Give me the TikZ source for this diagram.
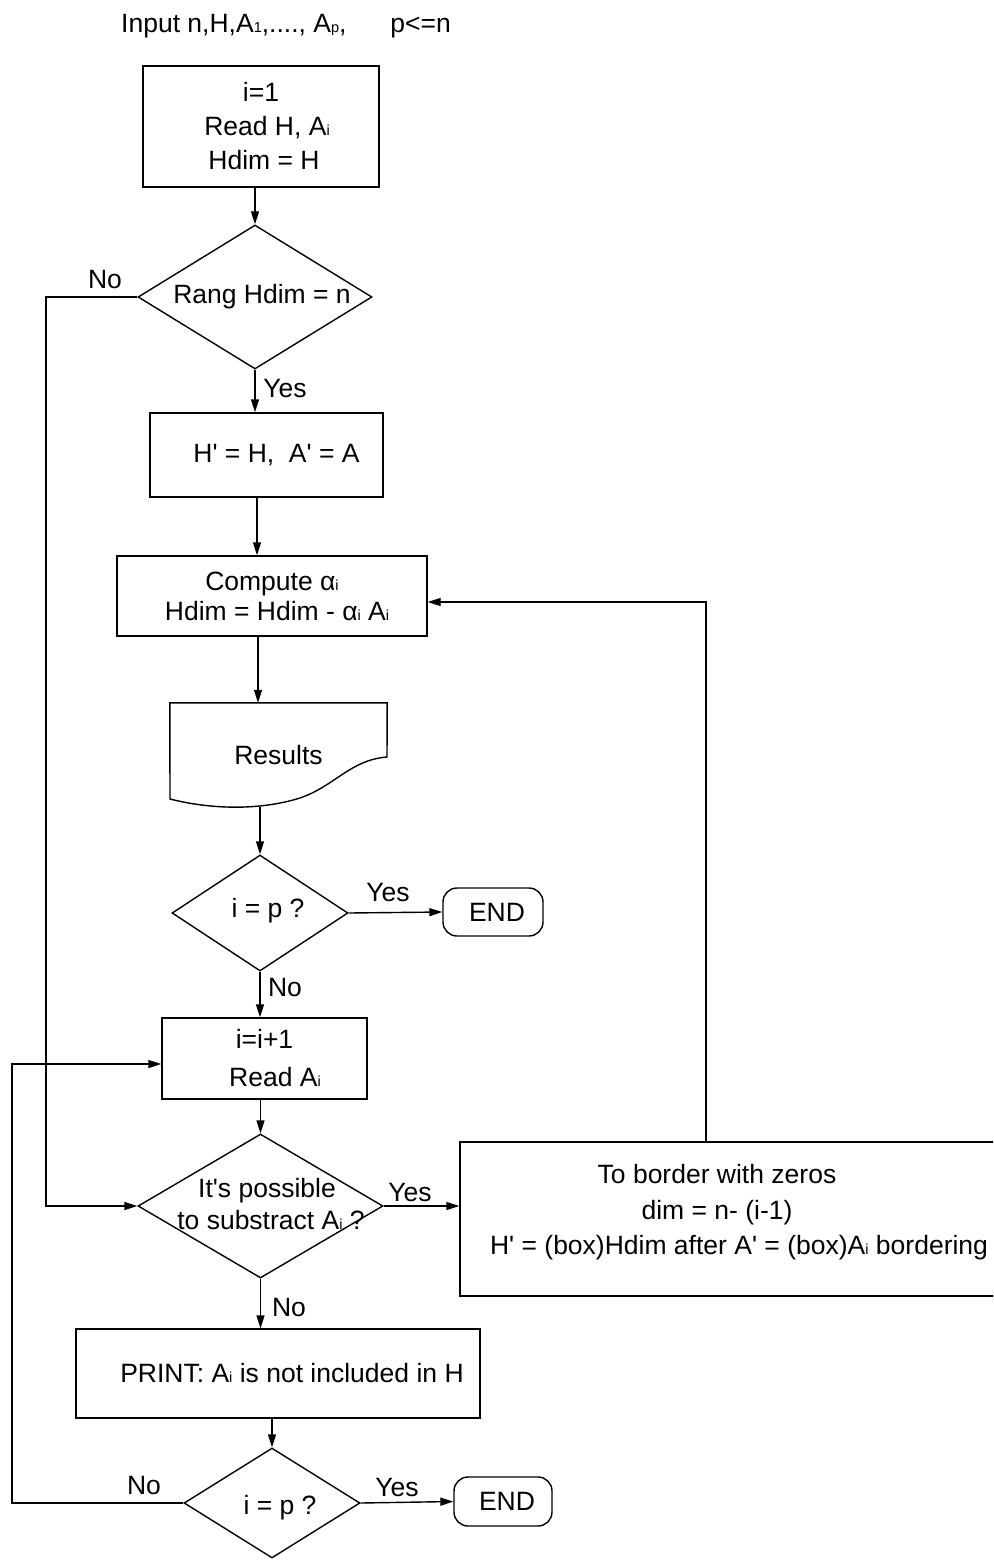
\documentclass[tikz,border=0pt]{standalone}
\usepackage{fontspec}
\setmainfont{Liberation Sans}[Ligatures=TeXOff]
\usetikzlibrary{shapes.geometric,arrows.meta,calc}
\newcommand\sbs[1]{{\fontsize{14.5pt}{14.5pt}\selectfont #1}}
\begin{document}
\begin{tikzpicture}[x=1pt,y=-1pt,
  every node/.style={font=\fontsize{26.5pt}{34pt}\selectfont, inner sep=0pt},
  box/.style={draw, line width=1.4pt, rectangle, align=center},
  dia/.style={draw, line width=1.4pt, diamond, aspect=1},
  term/.style={draw, line width=1.4pt, rectangle, rounded corners=14pt},
  ln/.style={line width=1.4pt},
  arr/.style={line width=1.4pt, -{Triangle[length=13pt,width=8pt]}},
  lbl/.style={anchor=center}
]
\useasboundingbox (0,0) rectangle (993,1562);
\clip (0,0) rectangle (993,1562);

% title
\node[anchor=base west] (title) at (121,33) {Input n,H,A\sbs{1},...., A\sbs{p},\hspace*{44pt}p<=n};

% box 1
\node[box, minimum width=236pt, minimum height=121pt] (b1) at (261,126.5)
  {i=1\\\hspace*{12pt}Read H, A\sbs{i}\\\hspace*{6pt}Hdim = H};

% diamond 1
\node[dia, minimum width=234pt, minimum height=144pt] (d1) at (255,297) {};
\node (td1) at (262,297) {Rang Hdim = n};
\node[lbl] (no1) at (105,280) {No};
\node[lbl] (yes1) at (285,389) {Yes};

% box 2
\node[box, minimum width=233pt, minimum height=84pt] (b2) at (266.5,455)
  {\hspace*{20pt}H\textquotesingle{} = H,\ \ A\textquotesingle{} = A};

% box 3
\node[box, minimum width=310pt, minimum height=80pt, font=\fontsize{26.5pt}{30pt}\selectfont] (b3) at (272,596)
  {Compute α\sbs{i}\\\hspace*{10pt}Hdim = Hdim - α\sbs{i} A\sbs{i}};

% results (document)
\node[minimum width=217pt, minimum height=104pt] (res) at (278.5,755) {Results};
\draw[ln] (res.north west) -- (res.north east) -- (387,757)
  .. controls (350,760) and (335,786) .. (300,798)
  .. controls (255,812) and (205,808) .. (170,799) -- cycle;

% diamond 2
\node[dia, minimum width=176pt, minimum height=116pt] (d2) at (260,913) {};
\node (td2) at (268,911) {i = p ?};
\node[term, minimum width=100pt, minimum height=48pt] (e1) at (493,912) {\hspace*{8pt}END};
\node[lbl] (yes2) at (388,893) {Yes};
\node[lbl] (no2) at (285,988) {No};

% box 4
\node[box, minimum width=205pt, minimum height=81pt, font=\fontsize{26.5pt}{38pt}\selectfont] (b4) at (264.5,1058.5)
  {i=i+1\\\hspace*{21pt}Read A\sbs{i}};

% diamond 3
\node[dia, minimum width=245pt, minimum height=144pt] (d3) at (260.5,1206) {};
\node[align=center, font=\fontsize{26.5pt}{32pt}\selectfont] (td3) at (267,1204)
  {It\textquotesingle s possible\\\hspace*{8pt}to substract A\sbs{i} ?};
\node[lbl] (yes3) at (410,1192) {Yes};

% box 5
\node[box, minimum width=550pt, minimum height=154pt] (b5) at (735,1219) {};
\node[align=center, font=\fontsize{26.5pt}{35.5pt}\selectfont] (tb5) at (717,1212.5)
  {To border with zeros\\dim = n- (i-1)\\\hspace*{44pt}H\textquotesingle{} = (box)Hdim after A\textquotesingle{} = (box)A\sbs{i} bordering};

% box 6
\node[box, minimum width=404pt, minimum height=89pt] (b6) at (278,1373.5)
  {\hspace*{28pt}PRINT: A\sbs{i} is not included in H};
\node[lbl] (no3) at (289,1307) {No};

% diamond 4
\node[dia, minimum width=176pt, minimum height=110pt] (d4) at (272,1503) {};
\node (td4) at (280,1508) {i = p ?};
\node[term, minimum width=98pt, minimum height=49pt] (e2) at (503,1501.5) {\hspace*{8pt}END};
\node[lbl] (yes4) at (397,1487) {Yes};
\node[lbl] (no4) at (144,1485) {No};

% helper coordinates
\coordinate (cA) at (257,0);
\coordinate (cB) at (258,0);
\coordinate (nox) at (46,297);
\coordinate (loopR) at (706,602);
\coordinate (loopL) at (12,1064);

% connectors
\draw[arr] (d1.north |- b1.south) -- (d1.north);
\draw[arr] (d1.south) -- (d1.south |- b2.north);
\draw[arr] (b2.south -| cA) -- (b3.north -| cA);
\draw[arr] (b3.south -| cB) -- (res.north -| cB);
\draw[arr] (res.south -| d2.north) -- (d2.north);
\draw[arr] (d2.east) -- (e1.west);
\draw[arr] (d2.south) -- (d2.south |- b4.north);
\draw[arr] (b4.south -| d3.north) -- (d3.north);
\draw[arr] (d3.east) -- (d3.east -| b5.west);
\draw[arr] (d3.south) -- (d3.south |- b6.north);
\draw[arr] (b6.south -| d4.north) -- (d4.north);
\draw[arr] (d4.east) -- (e2.west);
\draw[arr] (d1.west) -- (nox) |- (d3.west);
\draw[arr] (d4.west) -| (loopL) -- (b4.west |- loopL);
\draw[arr] (loopR |- b5.north) -- (loopR) -- (b3.east |- loopR);
\end{tikzpicture}
\end{document}
